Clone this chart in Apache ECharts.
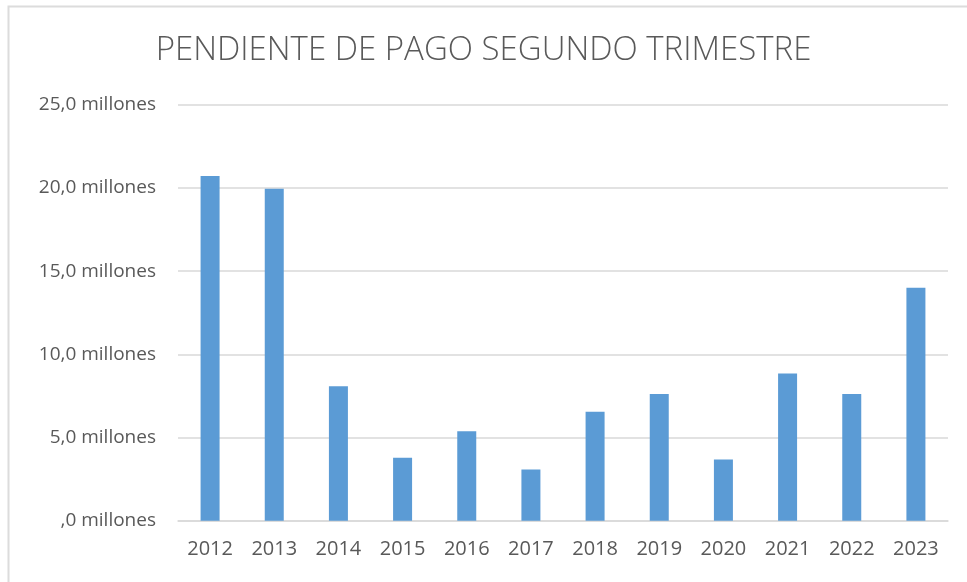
<!DOCTYPE html>
<html>
<head>
    <meta charset="utf-8">
    <title>Pendiente de pago segundo trimestre</title>
    <script src="https://cdn.jsdelivr.net/npm/echarts@6.0.0/dist/echarts.min.js"></script>
    <style>
        html, body { margin: 0; padding: 0; background: #ffffff; }
    </style>
</head>
<body>
    <div id="main" style="width: 967px; height: 582px;"></div>

    <script>
        // años y saldo pendiente (millones)
        var years = ['2012', '2013', '2014', '2015', '2016', '2017', '2018', '2019', '2020', '2021', '2022', '2023'];
        var pendiente = [20.72, 19.95, 8.08, 3.78, 5.38, 3.08, 6.54, 7.62, 3.68, 8.84, 7.62, 14.0];
        var yTicks = [0, 5, 10, 15, 20, 25];

        var myChart = echarts.init(document.getElementById('main'));

        function formatMillones(v) {
            var s = v.toFixed(1).replace('.', ',');
            if (s.indexOf('0,') === 0) {
                s = s.substring(1);
            }
            return s + ' millones';
        }

        var option = {
            animation: false,
            textStyle: { fontFamily: 'Open Sans' },
            title: {
                text: 'PENDIENTE DE PAGO SEGUNDO TRIMESTRE',
                left: 'center',
                top: 29,
                textStyle: {
                    fontFamily: 'Open Sans',
                    fontSize: 33,
                    fontWeight: 300,
                    color: '#595959'
                }
            },
            graphic: [{
                type: 'rect',
                shape: { x: 8.5, y: 6.5, width: 1000, height: 600 },
                style: { fill: 'none', stroke: '#dcdcdc', lineWidth: 2 },
                silent: true
            }],
            grid: {
                left: 178,
                right: 19,
                top: 104.7,
                bottom: 61.3
            },
            xAxis: {
                type: 'category',
                data: years,
                axisTick: { show: false },
                axisLine: { lineStyle: { color: '#d9d9d9', width: 1.5 } },
                axisLabel: {
                    color: '#595959',
                    fontSize: 20,
                    margin: 19
                }
            },
            yAxis: {
                type: 'value',
                min: yTicks[0],
                max: yTicks[yTicks.length - 1],
                interval: 5,
                axisLine: { show: false },
                axisTick: { show: false },
                splitLine: { lineStyle: { color: '#d9d9d9', width: 1.5 } },
                axisLabel: {
                    color: '#595959',
                    fontSize: 19,
                    margin: 22,
                    formatter: formatMillones
                }
            },
            series: [{
                name: 'Pendiente',
                type: 'bar',
                data: pendiente,
                barWidth: 19,
                itemStyle: { color: '#5B9BD5' }
            }]
        };

        myChart.setOption(option);
    </script>
</body>
</html>
